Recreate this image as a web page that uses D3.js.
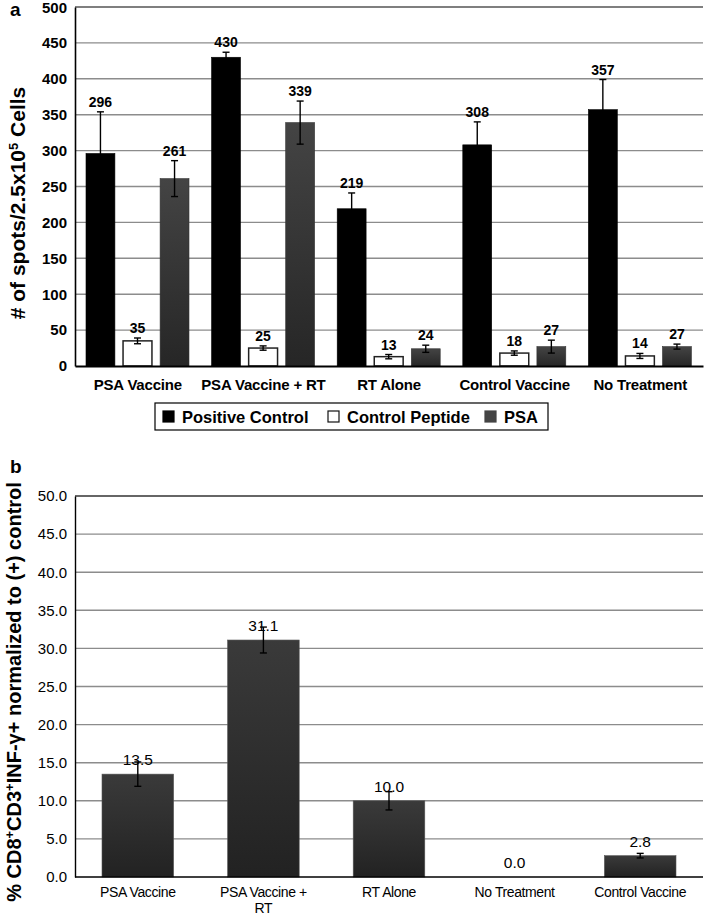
<!DOCTYPE html>
<html><head><meta charset="utf-8">
<script src="https://cdn.jsdelivr.net/npm/d3@7"></script>
<style>
body{margin:0;background:#fff}
svg{display:block}
text{font-family:"Liberation Sans",Arial,sans-serif;fill:#000}
</style>
</head><body>
<svg id="c" width="708" height="915"></svg>
<script>
// ---------- Data: panel a ----------
const groupsA = ["PSA Vaccine", "PSA Vaccine + RT", "RT Alone", "Control Vaccine", "No Treatment"];
const seriesA = ["Positive Control", "Control Peptide", "PSA"];
const positiveControl = [296, 430, 219, 308, 357];
const positiveControlErr = [58, 7, 22, 32, 42];
const controlPeptide = [35, 25, 13, 18, 14];
const controlPeptideErr = [4, 3, 3, 3, 3.5];
const psaValues = [261, 339, 24, 27, 27];
const psaErr = [25, 30, 5, 9, 3.5];
const yTicksA = [0, 50, 100, 150, 200, 250, 300, 350, 400, 450, 500];

// ---------- Data: panel b ----------
const groupsB = ["PSA Vaccine", "PSA Vaccine + RT", "RT Alone", "No Treatment", "Control Vaccine"];
const valuesB = [13.5, 31.1, 10.0, 0.0, 2.8];
const errB = [1.6, 1.7, 1.2, 0, 0.3];
const yTicksB = [0, 5, 10, 15, 20, 25, 30, 35, 40, 45, 50];

const svg = d3.select("#c");
const defs = svg.append("defs");
function grad(id, c1, c2) {
  const g = defs.append("linearGradient").attr("id", id).attr("x1", 0).attr("y1", 0).attr("x2", 0).attr("y2", 1);
  g.append("stop").attr("offset", "0%").attr("stop-color", c1);
  g.append("stop").attr("offset", "100%").attr("stop-color", c2);
}
grad("psaGrad", "#444444", "#262626");
grad("bGrad", "#3a3a3a", "#222222");

// ================= Panel a =================
const L = 75, R = 703;
const xA = d3.scaleBand().domain(groupsA).range([L, R]);
const xInner = d3.scaleBand().domain(seriesA).range([11, 114]).paddingInner(0.22);
const yA = d3.scaleLinear().domain([0, 500]).range([366, 7]);

const gA = svg.append("g");
gA.append("g").selectAll("line").data(yTicksA.filter(d => d > 0)).join("line")
  .attr("x1", L).attr("x2", R).attr("y1", d => yA(d)).attr("y2", d => yA(d))
  .attr("stroke", d => d === 500 ? "#555" : "#8c8c8c").attr("stroke-width", 1.4);

const seriesDataA = [
  {name: seriesA[0], values: positiveControl, errs: positiveControlErr, fill: "#000", stroke: "#000"},
  {name: seriesA[1], values: controlPeptide, errs: controlPeptideErr, fill: "#fff", stroke: "#222"},
  {name: seriesA[2], values: psaValues, errs: psaErr, fill: "url(#psaGrad)", stroke: "#333"}
];

seriesDataA.forEach(s => {
  const rows = groupsA.map((g, i) => ({g, v: s.values[i], e: s.errs[i]}));
  const g = gA.append("g");
  g.selectAll("rect").data(rows).join("rect")
    .attr("x", d => xA(d.g) + xInner(s.name))
    .attr("width", xInner.bandwidth())
    .attr("y", d => yA(d.v))
    .attr("height", d => yA(0) - yA(d.v))
    .attr("fill", s.fill).attr("stroke", s.stroke).attr("stroke-width", s.name === "Control Peptide" ? 1.5 : 0.6);
  const cx = d => xA(d.g) + xInner(s.name) + xInner.bandwidth() / 2;
  g.selectAll("line.eb").data(rows).join("line").attr("class", "eb")
    .attr("x1", cx).attr("x2", cx)
    .attr("y1", d => yA(d.v + d.e)).attr("y2", d => yA(Math.max(0, d.v - d.e)))
    .attr("stroke", "#000").attr("stroke-width", 1.4);
  [1, -1].forEach(sign => {
    g.selectAll("line.cap" + sign).data(rows).join("line")
      .attr("x1", d => cx(d) - 3.5).attr("x2", d => cx(d) + 3.5)
      .attr("y1", d => yA(Math.max(0, d.v + sign * d.e))).attr("y2", d => yA(Math.max(0, d.v + sign * d.e)))
      .attr("stroke", "#000").attr("stroke-width", 1.4);
  });
  g.selectAll("text").data(rows).join("text")
    .attr("x", cx).attr("y", d => yA(d.v + d.e) - 5)
    .attr("text-anchor", "middle").attr("font-size", 14).attr("font-weight", "bold")
    .text(d => d.v);
});

// axes a
const axA = gA.append("g").attr("transform", `translate(${L},0)`)
  .call(d3.axisLeft(yA).tickValues(yTicksA).tickSize(0).tickSizeOuter(0).tickPadding(8));
axA.select(".domain").attr("stroke", "#000").attr("stroke-width", 1.6);
axA.selectAll("text").attr("font-size", 15).attr("font-weight", "bold").attr("font-family", "Liberation Sans, Arial, sans-serif")
  .attr("dy", d => d === 500 ? "0.38em" : "0.32em");

const axAx = gA.append("g").attr("transform", `translate(0,${yA(0)})`)
  .call(d3.axisBottom(xA).tickSize(0).tickSizeOuter(0).tickPadding(13));
axAx.select(".domain").attr("stroke", "#000").attr("stroke-width", 2.2);
axAx.selectAll("text").attr("font-size", 15).attr("font-weight", "bold").attr("letter-spacing", -0.2).attr("font-family", "Liberation Sans, Arial, sans-serif");

// y title a
const tA = svg.append("text").attr("transform", "translate(25,203) rotate(-90)")
  .attr("text-anchor", "middle").attr("font-size", 21).attr("font-weight", "bold");
tA.append("tspan").text("# of spots/2.5x10");
tA.append("tspan").attr("dy", -7).attr("font-size", 13).text("5");
tA.append("tspan").attr("dy", 7).text(" Cells");

svg.append("text").attr("x", 10).attr("y", 16).attr("font-size", 19).attr("font-weight", "bold").text("a");

// legend
const lg = svg.append("g");
lg.append("rect").attr("x", 155).attr("y", 403).attr("width", 393).attr("height", 27)
  .attr("fill", "#fff").attr("stroke", "#000").attr("stroke-width", 1.2);
const legX = [163, 328, 485];
const legFill = ["#000", "#fff", "#444"];
seriesA.forEach((s, i) => {
  lg.append("rect").attr("x", legX[i]).attr("y", 411).attr("width", 11).attr("height", 11)
    .attr("fill", legFill[i]).attr("stroke", i === 1 ? "#111" : legFill[i]).attr("stroke-width", 1.2);
  lg.append("text").attr("x", legX[i] + 19).attr("y", 422.5).attr("font-size", 16.5).attr("font-weight", "bold").text(s);
});

// ================= Panel b =================
const xB = d3.scaleBand().domain(groupsB).range([L, R]).paddingInner(0.43).paddingOuter(0.215);
const yB = d3.scaleLinear().domain([0, 50]).range([877, 496]);
const gB = svg.append("g");
gB.append("g").selectAll("line").data(yTicksB.filter(d => d > 0)).join("line")
  .attr("x1", L).attr("x2", R).attr("y1", d => yB(d)).attr("y2", d => yB(d))
  .attr("stroke", d => d === 50 ? "#333" : "#8c8c8c").attr("stroke-width", 1.4);

const rowsB = groupsB.map((g, i) => ({g, v: valuesB[i], e: errB[i]}));
gB.selectAll("rect.bar").data(rowsB).join("rect").attr("class", "bar")
  .attr("x", d => xB(d.g)).attr("width", xB.bandwidth())
  .attr("y", d => yB(d.v)).attr("height", d => yB(0) - yB(d.v))
  .attr("fill", "url(#bGrad)").attr("stroke", "#555").attr("stroke-width", 0.6);
const cxB = d => xB(d.g) + xB.bandwidth() / 2;
const ebRows = rowsB.filter(d => d.e > 0);
gB.selectAll("line.eb").data(ebRows).join("line").attr("class", "eb")
  .attr("x1", cxB).attr("x2", cxB).attr("y1", d => yB(d.v + d.e)).attr("y2", d => yB(d.v - d.e))
  .attr("stroke", "#000").attr("stroke-width", 1.4);
[1, -1].forEach(sign => {
  gB.selectAll("line.capb" + sign).data(ebRows).join("line")
    .attr("x1", d => cxB(d) - 3.5).attr("x2", d => cxB(d) + 3.5)
    .attr("y1", d => yB(d.v + sign * d.e)).attr("y2", d => yB(d.v + sign * d.e))
    .attr("stroke", "#000").attr("stroke-width", 1.4);
});
gB.selectAll("text.val").data(rowsB).join("text").attr("class", "val")
  .attr("x", cxB).attr("y", d => yB(d.v) - 9)
  .attr("text-anchor", "middle").attr("font-size", 15.5)
  .text(d => d3.format(".1f")(d.v));

const axB = gB.append("g").attr("transform", `translate(${L},0)`)
  .call(d3.axisLeft(yB).tickValues(yTicksB).tickFormat(d3.format(".1f")).tickSize(0).tickSizeOuter(0).tickPadding(8));
axB.select(".domain").attr("stroke", "#000").attr("stroke-width", 1.4);
axB.selectAll("text").attr("font-size", 15).attr("font-family", "Liberation Sans, Arial, sans-serif");

const axBx = gB.append("g").attr("transform", `translate(0,${yB(0)})`)
  .call(d3.axisBottom(xB).tickSize(0).tickSizeOuter(0).tickPadding(10).tickFormat(() => ""));
axBx.select(".domain").attr("stroke", "#000").attr("stroke-width", 1.6).attr("d", `M${L},0H${R}`);
axBx.selectAll(".tick").each(function(d) {
  const t = d3.select(this).append("text").attr("fill", "#000").attr("text-anchor", "middle")
    .attr("font-size", 14).attr("letter-spacing", -0.4).attr("font-family", "Liberation Sans, Arial, sans-serif");
  const lines = d === "PSA Vaccine + RT" ? ["PSA Vaccine +", "RT"] : [d];
  lines.forEach((ln, i) => t.append("tspan").attr("x", 0).attr("y", 20 + i * 16).text(ln));
});

const tB = svg.append("text").attr("transform", "translate(21,692) rotate(-90)")
  .attr("text-anchor", "middle").attr("font-size", 20).attr("font-weight", "bold");
tB.append("tspan").text("% CD8");
tB.append("tspan").attr("dy", -7).attr("font-size", 13).text("+");
tB.append("tspan").attr("dy", 7).text("CD3");
tB.append("tspan").attr("dy", -7).attr("font-size", 13).text("+");
tB.append("tspan").attr("dy", 7).text("INF-γ+ normalized to (+) control");

svg.append("text").attr("x", 10).attr("y", 473).attr("font-size", 19).attr("font-weight", "bold").text("b");
</script>
</body></html>
